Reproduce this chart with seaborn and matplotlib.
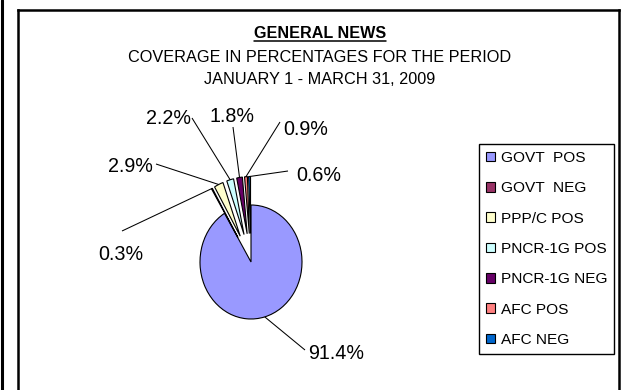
import matplotlib
matplotlib.use("Agg")
import numpy as np
import matplotlib.pyplot as plt
import seaborn as sns
from matplotlib.patches import Patch
from matplotlib.lines import Line2D

sns.set_theme(style="white")
plt.rcParams['font.family'] = ['Liberation Sans', 'DejaVu Sans']
plt.rcParams['text.color'] = 'black'

# ---- data -------------------------------------------------------------
categories = ["GOVT  POS", "GOVT  NEG", "PPP/C POS", "PNCR-1G POS",
              "PNCR-1G NEG", "AFC POS", "AFC NEG"]
shares = [91.4, 0.3, 2.9, 2.2, 1.8, 0.9, 0.6]
colors = ["#9999FF", "#993366", "#FFFFCC", "#CCFFFF",
          "#660066", "#FF8080", "#0066CC"]
title_lines = ["GENERAL NEWS",
               "COVERAGE IN PERCENTAGES FOR THE PERIOD",
               "JANUARY 1 - MARCH 31, 2009"]

# ---- layout (figure pixels, y measured from the top) -------------------
W, H = 630, 390
CX, CY = 251, 262          # pie centre
RX, RY = 51, 57            # pie radius on screen (slightly tall)
explode = [0.0, 0.5, 0.5, 0.5, 0.5, 0.5, 0.5]
# text x, text baseline y, horizontal alignment, leader end x, leader end y
label_layout = [
    (308, 359, "left", 305, 350),
    (121, 260, "center", 122, 231),
    (153, 172, "right", 156, 164),
    (191, 124, "right", 192, 118),
    (232, 122, "center", 233, 127),
    (283, 135, "left", 280, 122),
    (296, 181, "left", 288, 171),
]


def to_data(px, py):
    return (px - CX) / RX, (CY - py) / RY


def fig_xy(px, py):
    return px / W, 1 - py / H


fig = plt.figure(figsize=(W / 100, H / 100), dpi=100)
fig.patch.set_facecolor("white")
ax = fig.add_axes([0, 0, 1, 1])

palette = sns.color_palette(colors)
wedges, _ = ax.pie(shares, colors=palette, startangle=90, counterclock=False,
                   explode=explode, radius=1.0, center=(0, 0),
                   wedgeprops=dict(edgecolor="black", linewidth=0.8))
ax.set_aspect("auto")
x0, _ = to_data(0, 0)
x1, _ = to_data(W, 0)
_, y_top = to_data(0, 0)
_, y_bot = to_data(0, H)
ax.set_xlim(x0, x1)
ax.set_ylim(y_bot, y_top)
ax.axis("off")

# percentage labels with leader lines
for w, v, (tx, ty, ha, lx, ly) in zip(wedges, shares, label_layout):
    mid = np.deg2rad((w.theta1 + w.theta2) / 2)
    cx, cy = w.center
    ax_pt = (cx + w.r * np.cos(mid), cy + w.r * np.sin(mid))
    end_pt = to_data(lx, ly)
    ax.plot([ax_pt[0], end_pt[0]], [ax_pt[1], end_pt[1]],
            color="black", lw=0.75, solid_capstyle="butt")
    px, py = to_data(tx, ty)
    ax.text(px, py, f"{v:.1f}%", ha=ha, va="baseline",
            fontsize=14.2, color="black")

# titles
t1 = fig.text(*fig_xy(320, 38.5), title_lines[0], ha="center", va="baseline",
              fontsize=11.6, fontweight="bold", color="black")
fig.text(*fig_xy(320, 62.5), title_lines[1], ha="center", va="baseline",
         fontsize=11.7, color="black")
fig.text(*fig_xy(320, 84.5), title_lines[2], ha="center", va="baseline",
         fontsize=11.7, color="black")

# legend
handles = [Patch(facecolor=c, edgecolor="black", linewidth=0.8) for c in palette]
leg = fig.legend(handles, categories, loc="upper left",
                 bbox_to_anchor=fig_xy(479, 144), bbox_transform=fig.transFigure,
                 borderaxespad=0, frameon=True, fancybox=False, shadow=False,
                 fontsize=11.1, handlelength=0.6, handleheight=0.6,
                 handletextpad=0.35, labelspacing=1.06, borderpad=0.45)
leg.get_frame().set_edgecolor("black")
leg.get_frame().set_linewidth(1.0)
leg.get_frame().set_alpha(1)
for txt in leg.get_texts():
    txt.set_color("black")

# chart border and outer margin line
border = dict(color="black", lw=1.8, solid_capstyle="projecting")
fig.add_artist(Line2D(*zip(fig_xy(1.5, 0), fig_xy(1.5, H)),
                      transform=fig.transFigure, color="black", lw=2.2))
fig.add_artist(Line2D(*zip(fig_xy(18, H + 5), fig_xy(18, 10)),
                      transform=fig.transFigure, **border))
fig.add_artist(Line2D(*zip(fig_xy(18, 10), fig_xy(619, 10)),
                      transform=fig.transFigure, **border))
fig.add_artist(Line2D(*zip(fig_xy(619, 10), fig_xy(619, H + 5)),
                      transform=fig.transFigure, **border))

# underline the main heading
fig.canvas.draw()
bb = t1.get_window_extent()
fig.add_artist(Line2D([bb.x0 / W, bb.x1 / W], [1 - 41 / H, 1 - 41 / H],
                      transform=fig.transFigure, color="black", lw=1.1))

fig.savefig("out.png", dpi=100, facecolor="white")
